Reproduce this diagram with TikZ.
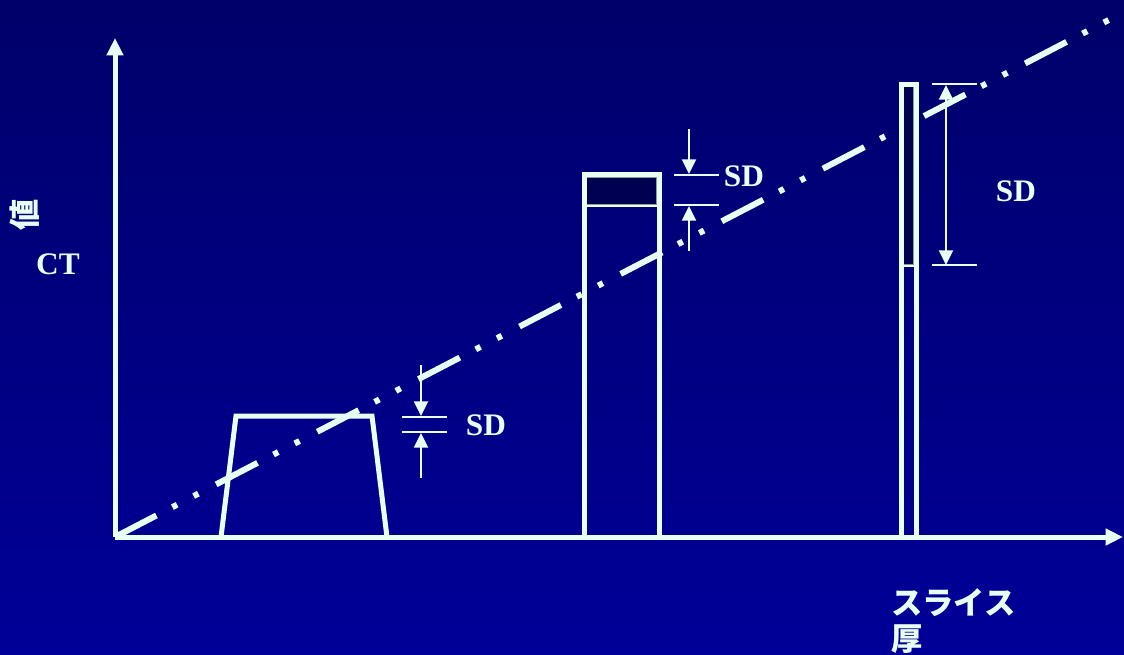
\documentclass[tikz,border=0pt]{standalone}
\usepackage{fontspec}
\setmainfont{Liberation Serif}
\newfontfamily\jpfont{Noto Sans CJK JP}
\usetikzlibrary{arrows.meta}
\definecolor{bgtop}{HTML}{00006A}
\definecolor{bgbot}{HTML}{000098}
\definecolor{mint}{HTML}{E8FFF4}
\definecolor{darkfill}{HTML}{000050}
\definecolor{grayedge}{HTML}{8C9C94}
\tikzset{
  thickline/.style={draw=mint, line width=3.75pt, line join=miter},
  axisline/.style={thickline, -{Triangle[width=12pt,length=13pt]}},
  trendline/.style={draw=mint, line width=4.5pt,
    dash pattern=on 35pt off 13.5pt on 4pt off 14pt on 4pt off 15pt},
  tickline/.style={draw=mint, line width=1.5pt},
  sdarrow/.style={draw=mint, line width=1.5pt, -{Triangle[width=10.5pt,length=11pt]}},
  sddouble/.style={draw=mint, line width=1.5pt, {Triangle[width=10.5pt,length=11pt]}-{Triangle[width=10.5pt,length=11pt]}},
  darkbox/.style={fill=darkfill, draw=grayedge, line width=1pt},
  sdlabel/.style={text=mint, inner sep=0pt, font=\fontsize{23.5}{28}\selectfont\bfseries},
  jplabel/.style={text=mint, inner sep=0pt, font=\jpfont\fontsize{23.5}{28}\selectfont\bfseries},
}
\begin{document}
\begin{tikzpicture}[x=0.75pt,y=-0.75pt]
\useasboundingbox (0,0) rectangle (1124,654);
\shade[top color=bgtop, bottom color=bgbot] (0,0) rectangle (1124,654);
\begin{scope}
\clip (0,0) rectangle (1124,654);
% coordinates
\coordinate (O) at (115,537);
\coordinate (Ytip) at (115,38);
\coordinate (Xtip) at (1123,537);
\coordinate (Tend) at (1124,12);
% trend line
\draw[trendline] (O) -- (Tend);
% trapezoid
\coordinate (t1) at (221,537);
\coordinate (t2) at (236,416);
\coordinate (t3) at (372,416);
\coordinate (t4) at (387,537);
\draw[thickline] (t1) -- (t2) -- (t3) -- (t4);
% middle bar
\draw[darkbox] (586,177) rectangle (657,205);
\draw[tickline] (586,205.5) -- (657,205.5);
\coordinate (m1) at (584.5,537);
\coordinate (m2) at (584.5,174.5);
\coordinate (m3) at (659.5,174.5);
\coordinate (m4) at (659.5,537);
\draw[thickline] (m1) -- (m2) -- (m3) -- (m4);
% right bar
\draw[darkbox] (903.5,86) rectangle (913.5,265);
\draw[tickline] (903,265.5) -- (914,265.5);
\coordinate (r1) at (901,537);
\coordinate (r2) at (901,84.5);
\coordinate (r3) at (916,84.5);
\coordinate (r4) at (916,537);
\draw[thickline] (r1) -- (r2) -- (r3) -- (r4);
% axes
\draw[axisline] (O) -- (Ytip);
\draw[axisline] (O) -- (Xtip);
% left SD
\coordinate (la1) at (402,417); \coordinate (la2) at (447,417);
\coordinate (lb1) at (402,432); \coordinate (lb2) at (447,432);
\draw[tickline] (la1) -- (la2);
\draw[tickline] (lb1) -- (lb2);
\coordinate (lt) at (421,365); \coordinate (lth) at (421,416);
\coordinate (lbtm) at (421,478); \coordinate (lbh) at (421,433);
\draw[sdarrow] (lt) -- (lth);
\draw[sdarrow] (lbtm) -- (lbh);
\node[sdlabel] (sd1) at (486,425.5) {SD};
% middle SD
\coordinate (ma1) at (674,175); \coordinate (ma2) at (719,175);
\coordinate (mb1) at (674,205); \coordinate (mb2) at (719,205);
\draw[tickline] (ma1) -- (ma2);
\draw[tickline] (mb1) -- (mb2);
\coordinate (mt) at (689,129); \coordinate (mth) at (689,174);
\coordinate (mbtm) at (689,251); \coordinate (mbh) at (689,206);
\draw[sdarrow] (mt) -- (mth);
\draw[sdarrow] (mbtm) -- (mbh);
\node[sdlabel] (sd2) at (744,176) {SD};
% right SD
\coordinate (ra1) at (932,84); \coordinate (ra2) at (977,84);
\coordinate (rb1) at (932,265); \coordinate (rb2) at (977,265);
\draw[tickline] (ra1) -- (ra2);
\draw[tickline] (rb1) -- (rb2);
\coordinate (rt) at (946,85); \coordinate (rbm) at (946,265);
\draw[sddouble] (rt) -- (rbm);
\node[sdlabel] (sd3) at (1016,191) {SD};
% axis labels
\node[sdlabel] (ct) at (58,264.5) {CT};
\node[jplabel, rotate=90] (atai) at (25,215) {値};
\node[jplabel, anchor=west] (slice) at (891,603) {スライス};
\node[jplabel, anchor=west] (atsu) at (891,639) {厚};
\end{scope}
\end{tikzpicture}
\end{document}
